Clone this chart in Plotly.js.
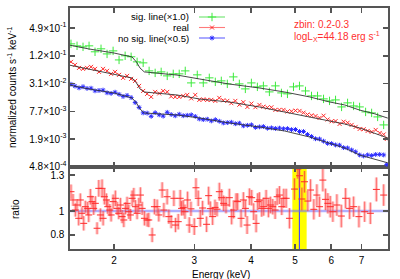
<!DOCTYPE html>
<html><head><meta charset="utf-8">
<script src="https://cdn.plot.ly/plotly-3.0.1.min.js"></script>
<style>html,body{margin:0;padding:0;background:#fff}#chart{width:400px;height:279px}</style>
</head><body><div id="chart"></div>
<script>
// ---- ratio panel (data / model of the real spectrum) ----
const ratioEnergy = [
1.608,1.625,1.644,1.658,1.672,1.686,1.700,1.715,1.729,1.750,
1.759,1.774,1.789,1.804,1.819,1.835,1.851,1.866,1.882,1.892,
1.904,1.924,1.937,1.957,1.970,1.990,2.013,2.031,2.048,2.065,
2.083,2.101,2.118,2.136,2.155,2.172,2.191,2.210,2.228,2.247,
2.267,2.285,2.305,2.332,2.364,2.384,2.425,2.453,2.487,2.508,
2.551,2.573,2.616,2.639,2.670,2.707,2.729,
2.767,2.795,2.814,2.838,2.863,2.901,2.926,2.951,3.001,3.027,
3.062,3.094,3.130,3.194,3.227,3.255,3.293,3.333,3.367,3.407,
3.447,3.482,3.524,3.584,3.626,3.663,3.708,3.738,3.803,3.848,
3.887,3.921,3.967,4.013,4.054,4.104,4.137,4.173,4.222,4.265,
4.317,4.368,4.412,4.464,4.519,4.565,4.619,4.673,4.720,
4.778,4.859,4.984,5.068,5.112,5.172,5.243,5.331,5.405,5.496,
5.581,5.658,5.753,5.832,5.901,5.973,6.052,6.176,6.316,6.455,
6.587,6.722,6.906,7.108,7.317,7.543,7.827];
const ratio = [
1.161,1.092,1.008,1.050,0.939,1.092,0.981,0.897,1.036,1.022,
0.967,1.119,1.078,1.022,1.064,0.856,1.189,0.967,1.189,0.939,
1.119,1.092,1.036,1.008,0.967,1.078,1.106,1.022,0.981,1.050,
0.953,0.925,1.022,1.064,0.994,0.967,1.106,1.133,1.036,0.981,
1.050,1.133,1.022,0.939,0.925,0.925,0.800,1.036,1.036,0.967,
1.175,1.008,1.119,0.953,0.911,1.106,0.883,
0.911,1.106,1.022,1.028,0.994,1.092,0.883,1.018,0.870,1.194,
1.106,0.939,1.025,0.889,1.128,1.020,0.953,1.030,1.015,1.161,
1.111,1.064,1.050,1.111,0.953,1.008,1.083,1.078,0.939,1.092,
1.022,0.883,1.119,1.111,0.994,0.897,1.078,1.092,1.022,1.036,
1.106,1.022,1.050,1.036,1.008,1.119,1.133,1.036,1.106,
1.106,0.939,1.183,1.350,1.294,1.100,1.244,1.083,1.175,1.014,
1.133,1.036,1.258,1.097,1.064,1.036,0.994,1.050,0.958,1.106,
1.022,1.036,0.953,0.994,0.981,1.180,1.133];
const ratioErr = [
0.060,0.050,0.055,0.050,0.060,0.055,0.050,0.060,0.050,0.055,
0.060,0.065,0.050,0.055,0.060,0.050,0.070,0.055,0.075,0.060,
0.065,0.055,0.060,0.050,0.055,0.060,0.065,0.055,0.050,0.060,
0.055,0.060,0.050,0.055,0.060,0.050,0.065,0.060,0.055,0.050,
0.060,0.065,0.055,0.060,0.055,0.060,0.060,0.065,0.060,0.055,
0.065,0.060,0.065,0.060,0.055,0.065,0.060,
0.065,0.070,0.060,0.065,0.060,0.070,0.065,0.060,0.070,0.080,
0.065,0.070,0.060,0.065,0.075,0.060,0.070,0.065,0.060,0.075,
0.070,0.065,0.070,0.075,0.065,0.070,0.065,0.070,0.075,0.065,
0.070,0.075,0.070,0.065,0.070,0.075,0.070,0.065,0.070,0.075,
0.070,0.075,0.070,0.065,0.075,0.070,0.075,0.070,0.080,
0.080,0.085,0.090,0.080,0.100,0.095,0.090,0.085,0.090,0.085,
0.090,0.085,0.095,0.090,0.085,0.090,0.085,0.090,0.095,0.085,
0.090,0.085,0.090,0.085,0.090,0.100,0.090];

// ---- spectra (normalized counts s^-1 keV^-1) ----
const topEnergy = [
1.608,1.641,1.675,1.709,1.744,1.780,1.816,1.853,1.891,1.930,
1.970,2.010,2.051,2.093,2.136,2.180,2.225,2.270,2.317,2.364,
2.413,2.462,2.513,2.564,2.617,2.670,2.725,2.781,2.838,2.896,
2.955,3.016,3.078,3.141,3.205,3.271,3.338,3.406,3.476,3.547,
3.620,3.694,3.770,3.847,3.926,4.007,4.089,4.173,4.258,4.345,
4.434,4.525,4.618,4.713,4.810,4.908,5.009,5.112,5.216,5.323,
5.433,5.544,5.658,5.774,5.892,6.013,6.136,6.262,6.390,6.521,
6.655,6.792,6.931,7.073,7.218,7.366,7.517,7.671,7.829,7.950];
const realCounts = [
0.0908,0.0782,0.0673,0.0640,0.0673,0.0708,0.0640,0.0551,0.0640,0.0580,
0.0499,0.0551,0.0475,0.0409,0.0451,0.0389,0.0352,0.0274,0.0213,0.0184,
0.0158,0.0203,0.0188,0.0213,0.0203,0.0162,0.0158,0.0158,0.0166,0.0175,
0.01468,0.0175,0.01362,0.01397,0.01362,0.01362,0.01296,0.01505,0.01335,0.01296,
0.01155,0.01296,0.01073,0.01214,0.00960,0.01132,0.00946,0.01061,0.00970,0.00932,
0.00941,0.00827,0.00827,0.00827,0.00763,0.00771,0.00798,0.00786,0.00719,0.00657,
0.00631,0.00607,0.00554,0.00619,0.00512,0.00468,0.00472,0.00411,0.00459,0.00436,
0.00391,0.00354,0.00320,0.00315,0.00290,0.00276,0.00305,0.00262,0.00243,0.00194];
const noLineCounts = [
0.0297,0.0271,0.0248,0.0263,0.0241,0.0244,0.0214,0.0218,0.0222,0.0194,
0.0188,0.0200,0.0180,0.0162,0.0170,0.0153,0.0119,0.00937,0.00712,0.00705,
0.00601,0.00722,0.00647,0.00607,0.00733,0.00657,0.00616,0.00667,0.00619,0.00631,
0.00647,0.00598,0.00527,0.00509,0.00520,0.00477,0.00509,0.00470,0.00432,0.00438,
0.00447,0.00415,0.00426,0.00374,0.00383,0.00393,0.00345,0.00354,0.00361,0.00331,
0.00338,0.00327,0.00333,0.00323,0.00325,0.00309,0.00311,0.00281,0.00281,0.00243,
0.00219,0.00196,0.00194,0.00174,0.00156,0.00154,0.00144,0.00142,0.00126,0.00124,
0.00112,0.00102,0.000874,0.000831,0.000874,0.000852,0.000896,0.000896,0.000874,0.000544];
const sigEnergy = [
1.608,1.658,1.709,1.762,1.816,1.872,1.930,1.990,2.051,2.115,
2.180,2.247,2.317,2.388,2.462,2.538,2.617,2.698,2.781,2.867,
2.955,3.047,3.141,3.238,3.338,3.441,3.547,3.657,3.770,3.886,
4.007,4.130,4.258,4.389,4.525,4.665,4.809,4.958,5.111,5.269,
5.432,5.600,5.773,5.951,6.135,6.325,6.520,6.721,6.929,7.143,
7.364,7.591,7.826];
const sigLineCounts = [
0.223,0.202,0.192,0.202,0.150,0.174,0.135,0.157,0.100,0.123,
0.117,0.0908,0.0864,0.0579,0.0524,0.0551,0.0451,0.0499,0.0499,0.0579,
0.0318,0.0475,0.0318,0.0409,0.0335,0.0352,0.0303,0.0429,0.0303,0.0236,
0.0318,0.0261,0.0274,0.0203,0.0274,0.0193,0.0184,0.0261,0.0274,0.0213,
0.0166,0.0166,0.01432,0.01296,0.01362,0.00960,0.01173,0.01009,0.00960,0.00748,
0.00712,0.00583,0.00391];
// ---- folded models ----
const modelEnergy = [1.59,1.76,2.00,2.19,2.24,2.28,2.33,2.75,3.08,3.58,4.17,4.74,5.38,5.95,6.42,6.93,7.48,7.99];
const modelSig    = [0.211,0.173,0.141,0.116,0.090,0.067,0.055,0.047,0.0387,0.0301,0.0247,0.0202,0.0158,0.0123,0.0106,0.0082,0.0068,0.0055];
const modelReal   = [0.0777,0.0637,0.0496,0.0406,0.0317,0.0235,0.0202,0.0174,0.01425,0.01227,0.00956,0.00745,0.00581,0.00476,0.00410,0.00336,0.00261,0.00204];
const modelNoLine = [0.0287,0.0235,0.0192,0.0150,0.0117,0.00866,0.00709,0.00642,0.00553,0.00431,0.00353,0.00289,0.00214,0.00159,0.00124,0.00087,0.00072,0.00059];

// ---- axes / labels ----
const energyRange = [1.6, 8];
const countsRange = [4.79e-4, 1.333];
const ratioRange = [0.683, 1.367];
const energyTicks = [2, 3, 4, 5, 6, 7];
const countTickVals = [4.8e-4, 1.92e-3, 7.68e-3, 3.072e-2, 0.12288, 0.49152];
const countTickText = ['4.8×10<sup>-4</sup>','1.9×10<sup>-3</sup>','7.7×10<sup>-3</sup>','3.1×10<sup>-2</sup>','1.2×10<sup>-1</sup>','4.9×10<sup>-1</sup>'];
const ratioTicks = [0.8, 1, 1.3];
const seriesNames = ['sig. line(×1.0)', 'real', 'no sig. line(×0.5)'];
const lineBand = [4.93, 5.30];
const lineCenter = 5.11;

const GREEN = '#3cea3c', RED = '#ff2a2a', BLUE = '#2a2aff';
const AXC = '#555555';
const split = 0.3402;

const mk = (sym, size, col, w) => ({symbol: sym, size: size, color: col, line: {color: col, width: w}});
const traces = [
  {x: sigEnergy, y: sigLineCounts, xaxis: 'x2', yaxis: 'y2', mode: 'markers', marker: mk('cross-thin-open', 6, GREEN, 1)},
  {x: topEnergy, y: realCounts, xaxis: 'x2', yaxis: 'y2', mode: 'markers', marker: mk('x-thin-open', 4, RED, 1)},
  {x: topEnergy, y: noLineCounts, xaxis: 'x2', yaxis: 'y2', mode: 'markers', marker: mk('asterisk-open', 4, BLUE, 1)},
  {x: modelEnergy, y: modelSig, xaxis: 'x2', yaxis: 'y2', mode: 'lines', line: {color: '#333', width: 0.9}},
  {x: modelEnergy, y: modelReal, xaxis: 'x2', yaxis: 'y2', mode: 'lines', line: {color: '#333', width: 0.9}},
  {x: modelEnergy, y: modelNoLine, xaxis: 'x2', yaxis: 'y2', mode: 'lines', line: {color: '#333', width: 0.9}},
  {x: ratioEnergy, y: ratio, xaxis: 'x', yaxis: 'y', mode: 'markers', marker: {size: 1, opacity: 0},
   error_y: {type: 'data', array: ratioErr, visible: true, color: 'rgba(255,110,110,0.38)', thickness: 3.2, width: 0}},
  {x: ratioEnergy, y: ratio, xaxis: 'x', yaxis: 'y', mode: 'markers', marker: mk('line-ew-open', 5, RED, 1),
   error_y: {type: 'data', array: ratioErr, visible: true, color: 'rgba(255,30,30,0.6)', thickness: 0.9, width: 0}}
];
// legend samples (symbols drawn to the right of the text, as in the original)
const legRows = [17, 27.5, 38];
const legLine = ['rgba(60,220,60,0.75)', 'rgba(255,90,90,0.8)', 'rgba(60,60,255,0.8)'];
const legMk = [mk('cross-thin-open', 6, GREEN, 1), mk('x-thin-open', 4, RED, 1), mk('asterisk-open', 4, BLUE, 1)];
legRows.forEach((r, i) => {
  traces.push({x: [199, 225], y: [r, r], xaxis: 'x3', yaxis: 'y3', mode: 'lines', line: {color: legLine[i], width: 1.1}});
  traces.push({x: [212], y: [r], xaxis: 'x3', yaxis: 'y3', mode: 'markers', marker: legMk[i]});
});

const axBase = {showline: true, linecolor: AXC, linewidth: 1.6, mirror: 'ticks', ticks: 'inside',
  ticklen: 5, tickwidth: 1.4, tickcolor: AXC, showgrid: false, zeroline: false, fixedrange: true};
const lg = Math.log10;
const annotations = [];
seriesNames.forEach((n, i) => annotations.push({xref: 'paper', yref: 'paper', x: (191 - 70) / 318, y: (249 - legRows[i]) / 241,
  xanchor: 'right', yanchor: 'middle', text: n, showarrow: false, font: {size: 9.6, color: '#000'}}));
annotations.push({xref: 'paper', yref: 'paper', x: (292 - 70) / 318, y: (249 - 25) / 241, xanchor: 'left', yanchor: 'middle',
  text: 'zbin: 0.2-0.3', showarrow: false, font: {size: 10, color: '#ff3030'}});
annotations.push({xref: 'paper', yref: 'paper', x: (292 - 70) / 318, y: (249 - 36) / 241, xanchor: 'left', yanchor: 'middle',
  text: 'logL<sub>X</sub>=44.18 erg s<sup>-1</sup>', showarrow: false, font: {size: 10, color: '#ff3030'}});
annotations.push({xref: 'paper', yref: 'paper', x: (12 - 70) / 318, y: (249 - 87) / 241, xanchor: 'center', yanchor: 'middle',
  textangle: -90, text: 'normalized counts s<sup>-1</sup> keV<sup>-1</sup>', showarrow: false, font: {size: 10}});
annotations.push({xref: 'paper', yref: 'paper', x: (15 - 70) / 318, y: (249 - 209) / 241, xanchor: 'center', yanchor: 'middle',
  textangle: -90, text: 'ratio', showarrow: false, font: {size: 10}});
annotations.push({xref: 'paper', yref: 'paper', x: (221 - 70) / 318, y: (249 - 274) / 241, xanchor: 'center', yanchor: 'middle',
  text: 'Energy (keV)', showarrow: false, font: {size: 10}});

const layout = {
  width: 400, height: 279,
  margin: {l: 70, r: 12, t: 8, b: 30, pad: 0},
  paper_bgcolor: '#ffffff', plot_bgcolor: 'rgba(0,0,0,0)',
  font: {family: 'Liberation Sans, Arial, sans-serif', size: 10, color: '#000'},
  showlegend: false, hovermode: false,
  xaxis: Object.assign({}, axBase, {type: 'log', range: energyRange.map(lg), domain: [0, 1], anchor: 'y',
    tickmode: 'array', tickvals: energyTicks, ticktext: energyTicks.map(String), ticklabelstandoff: 1}),
  xaxis2: Object.assign({}, axBase, {type: 'log', range: energyRange.map(lg), domain: [0, 1], anchor: 'y2',
    tickmode: 'array', tickvals: energyTicks, showticklabels: false}),
  yaxis: Object.assign({}, axBase, {range: ratioRange, domain: [0, split], anchor: 'x',
    tickmode: 'array', tickvals: ratioTicks, ticktext: ['0.8', '1', '1.3'], ticklabelstandoff: 2}),
  yaxis2: Object.assign({}, axBase, {type: 'log', range: countsRange.map(lg), domain: [split, 1], anchor: 'x2',
    tickmode: 'array', tickvals: countTickVals, ticktext: countTickText}),
  xaxis3: {domain: [0, 1], range: [70, 388], overlaying: 'x2', anchor: 'y3', visible: false, fixedrange: true},
  yaxis3: {range: [167, 8], overlaying: 'y2', anchor: 'x3', visible: false, fixedrange: true},
  shapes: [
    {type: 'rect', xref: 'x', yref: 'y domain', x0: lineBand[0], x1: lineBand[1], y0: 0, y1: 1,
     fillcolor: '#ffff00', line: {width: 0}, layer: 'below'},
    {type: 'line', xref: 'x', yref: 'y domain', x0: lineCenter, x1: lineCenter, y0: 0, y1: 1,
     line: {color: '#4a4aff', width: 1.2}, layer: 'below'},
    {type: 'line', xref: 'x domain', yref: 'y', x0: 0, x1: 1, y0: 1, y1: 1,
     line: {color: 'rgba(110,110,255,0.55)', width: 2.6}, layer: 'below'}
  ],
  annotations: annotations
};
Plotly.newPlot('chart', traces, layout, {staticPlot: true, displayModeBar: false});
</script></body></html>
